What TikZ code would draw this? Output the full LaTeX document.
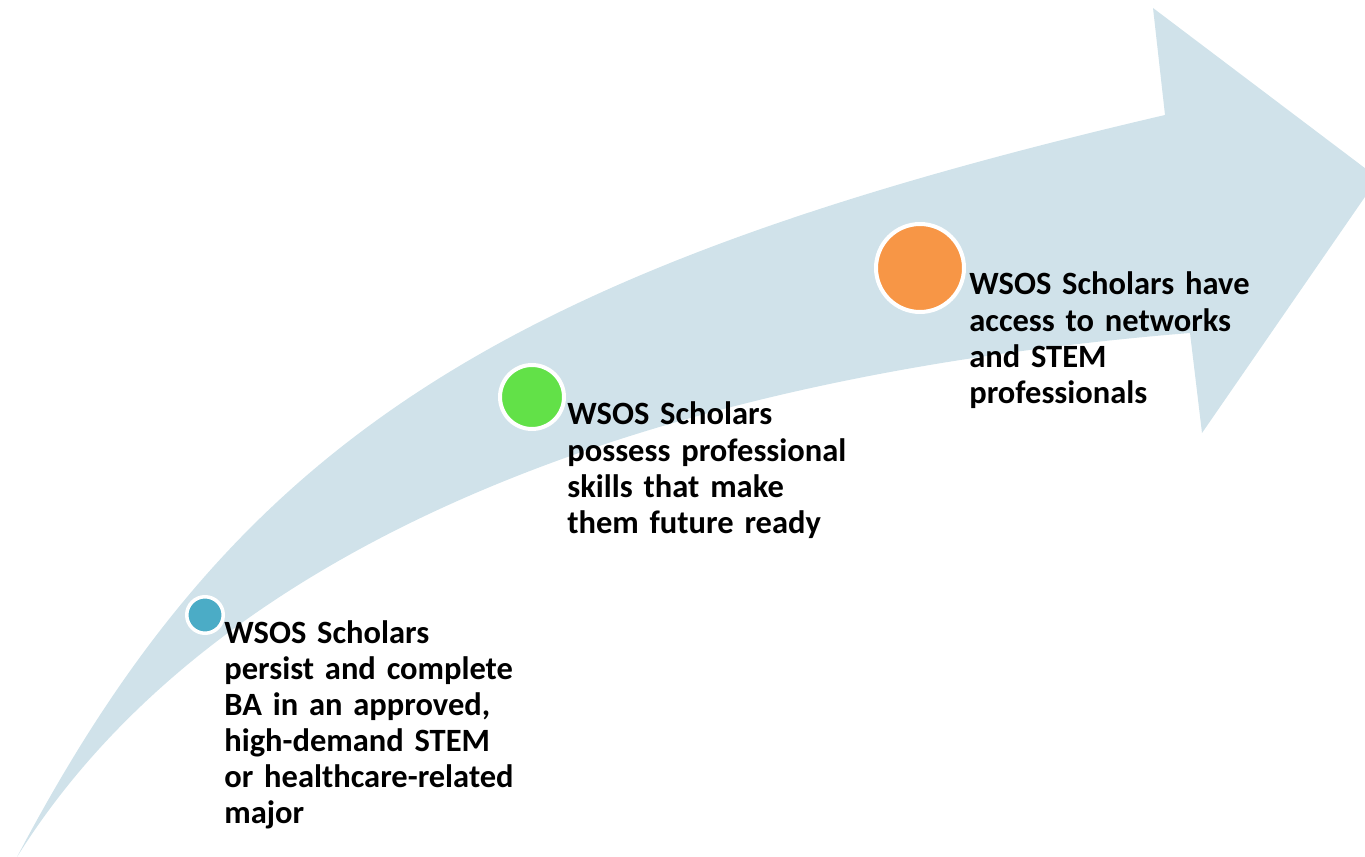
\documentclass[tikz,border=0pt]{standalone}
\usepackage{fontspec}
\setmainfont{Carlito}
\usepackage{tikz}
\definecolor{band}{RGB}{208,226,234}
\definecolor{dotblue}{RGB}{75,172,198}
\definecolor{dotgreen}{RGB}{98,225,72}
\definecolor{dotorange}{RGB}{247,150,70}

\begin{document}
\begin{tikzpicture}[x=0.02cm,y=-0.02cm,
    dot/.style={circle,draw=white,line width=0.08cm,inner sep=0pt},
    goaltext/.style={font=\bfseries\fontsize{18.5}{20.5}\selectfont,align=left,
        text width=8cm,anchor=base west,inner sep=0pt}]
\useasboundingbox (0,0) rectangle (1365,857);
\clip (0,0) rectangle (1365,857);
%arrow
\fill[band] (17,857) .. controls (236,441) and (500,270) .. (1165,115)
    -- (1153,8) -- (1378,178) -- (1202,433) -- (1190,333)
    .. controls (585,382) and (193,575) .. (17,857) -- cycle;
%dots
\node[dot,fill=dotblue,minimum size=0.73cm,line width=0.07cm] (dotA) at (205,615) {};
\node[dot,fill=dotgreen,minimum size=1.28cm] (dotB) at (532,397) {};
\node[dot,fill=dotorange,minimum size=1.76cm] (dotC) at (920,268) {};
%labels
\node[goaltext] (textA) at (224,643) {WSOS Scholars\\persist and complete\\BA in an approved,\\high-demand STEM\\or healthcare-related\\major};
\node[goaltext] (textB) at (567,425) {WSOS Scholars\\possess professional\\skills that make\\them future ready};
\node[goaltext] (textC) at (969,295) {WSOS Scholars have\\access to networks\\and STEM\\professionals};
\end{tikzpicture}
\end{document}
